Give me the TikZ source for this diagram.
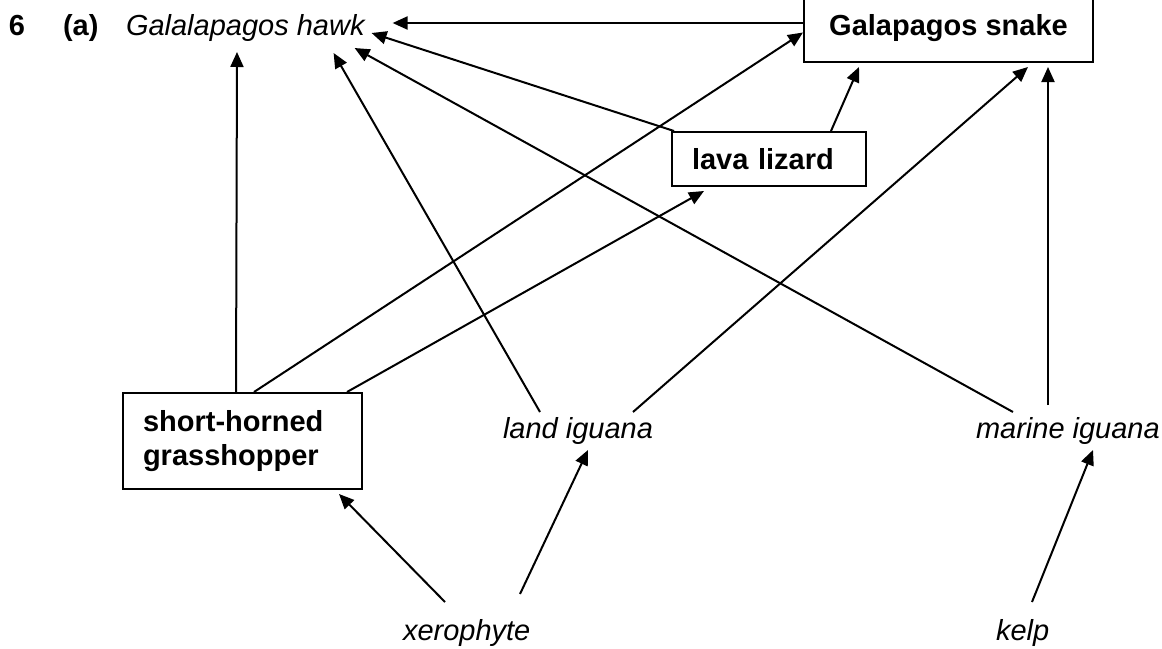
\documentclass[tikz,border=0pt]{standalone}
\usepackage{fontspec}
\setmainfont{Liberation Sans}
\usepackage{tikz}
\usetikzlibrary{positioning,calc,arrows.meta}

\begin{document}
\begin{tikzpicture}[x=1pt,y=-1pt,line width=2pt,
sp/.style={inner sep=0pt,anchor=base west,font=\fontsize{29}{34}\selectfont\itshape},
lb/.style={inner sep=0pt,anchor=base west,font=\fontsize{29}{34}\selectfont\bfseries},
bx/.style={draw,rectangle,inner ysep=0pt,font=\fontsize{29}{34}\selectfont\bfseries},
ar/.style={-{Triangle[length=15pt,width=13pt]}}]
\useasboundingbox (0,0) rectangle (1162,648);
\clip (0,0) rectangle (1162,648);
\node[lb] (qno) at (8,35) {6};
\node[lb] (part) at (62,35) {(a)};
\node[sp] (hawk) at (125,35) {Galalapagos hawk};
\node[bx,minimum width=289pt,minimum height=67pt] (snake) at (948.5,28.5) {Galapagos snake};
\node[bx,align=left,text width=154pt,inner xsep=20pt,minimum height=54pt] (lizard) at (769,159) {lava lizard};
\node[bx,align=left,text width=199pt,inner xsep=20pt,minimum height=96pt] (hopper) at (242.5,441)
  {short-horned\\grasshopper};
\node[sp] (land) at (502,438) {land iguana};
\node[sp] (marine) at (975,438) {marine iguana};
\node[sp] (xero) at (402,640) {xerophyte};
\node[sp] (kelp) at (995,640) {kelp};

\draw[ar] ($(snake.west)+(0,-5.5)$) -- ($(hawk.base east)+(27,-12)$);
\draw[ar] ($(lizard.north west)+(3,0)$) -- ($(hawk.base east)+(6,-2)$);
\draw[ar] ($(hopper.north west)+(114,0)$) -- ($(hawk.base west)+(112,17)$);
\draw[ar] ($(land.base west)+(38,-26)$) -- ($(hawk.base east)+(-32,18)$);
\draw[ar] ($(marine.base west)+(38,-26)$) -- ($(hawk.base east)+(-11,13)$);
\draw[ar] ($(hopper.north west)+(132,0)$) -- ($(snake.west)+(0,4)$);
\draw[ar] ($(hopper.north west)+(225,0)$) -- ($(lizard.south west)+(33,4)$);
\draw[ar] ($(lizard.north west)+(160,0)$) -- ($(snake.south west)+(56,4)$);
\draw[ar] ($(land.base west)+(131,-26)$) -- ($(snake.south west)+(225,4)$);
\draw[ar] ($(marine.base west)+(73,-33)$) -- ($(snake.south west)+(245,4)$);
\draw[ar] ($(xero.base west)+(43,-38)$) -- ($(hopper.south west)+(217,4)$);
\draw[ar] ($(xero.base west)+(118,-46)$) -- ($(land.base west)+(86,12)$);
\draw[ar] ($(kelp.base west)+(37,-38)$) -- ($(marine.base west)+(118,12)$);
\end{tikzpicture}
\end{document}
